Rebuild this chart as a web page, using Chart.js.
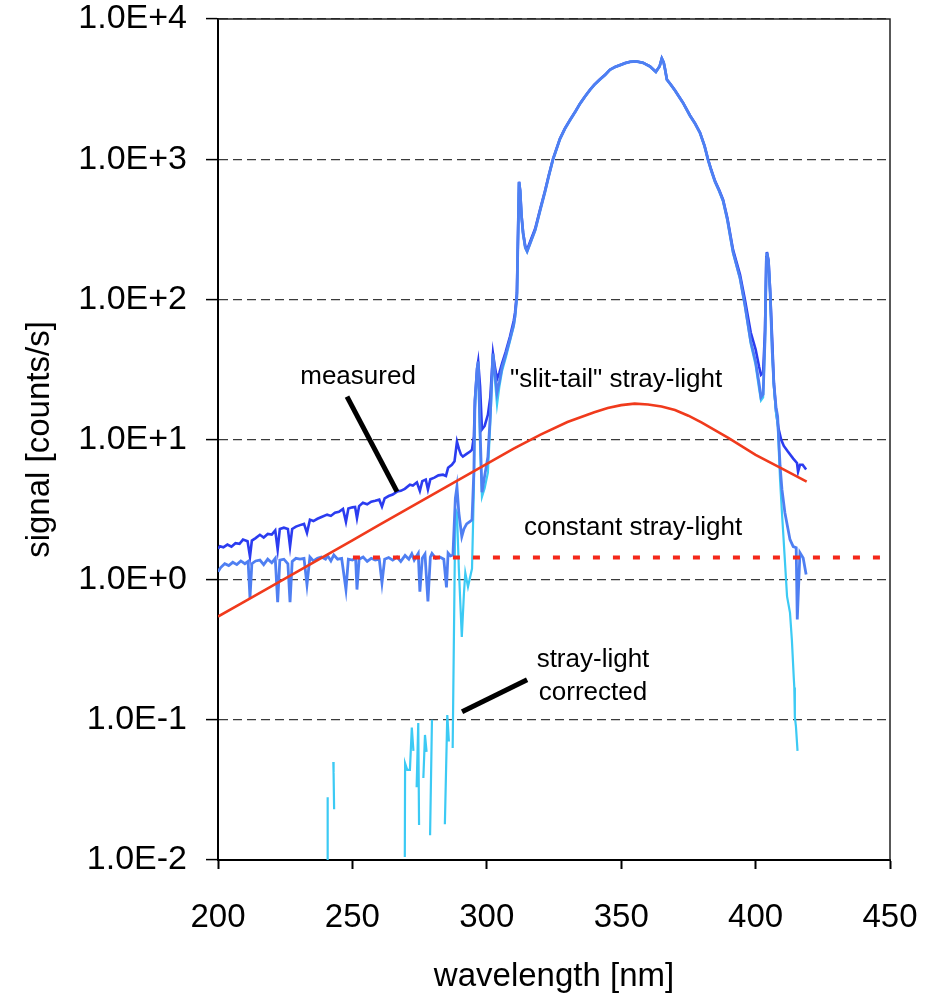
<!DOCTYPE html>
<html>
<head>
<meta charset="utf-8">
<script src="https://cdn.jsdelivr.net/npm/chart.js@4.4.1/dist/chart.umd.min.js"></script>
<style>
  html, body { margin: 0; padding: 0; background: #fff; }
  #wrap { width: 934px; height: 1000px; }
</style>
</head>
<body>
<div id="wrap"><canvas id="chart" width="934" height="1000"></canvas></div>
<script>
// [wavelength nm, signal counts/s]
const measured = [
  [200,1.66],[200.7,1.73],[202,1.70],[203.5,1.78],[205,1.72],[206.5,1.82],[208,1.80],[209.3,1.93],[211,1.88],[211.9,1.46],
  [212.6,1.90],[214,1.98],[215.6,2.09],[217,2.0],[218.5,2.12],[220,2.10],[221.3,2.25],[222.2,1.64],[223,2.30],[224.5,2.35],
  [226,2.30],[226.8,1.72],[227.6,2.30],[229,2.39],[230.5,2.45],[232,2.50],[233.1,2.16],[234.2,2.68],[235.5,2.62],[237,2.72],
  [238.5,2.80],[240.6,2.91],[242,2.85],[243.5,3.0],[245,3.05],[246.5,3.20],[247.6,2.59],[248.5,3.22],[250,3.28],[251,3.30],
  [251.7,2.75],[252.5,3.35],[253.9,3.54],[255.5,3.45],[257,3.60],[258.5,3.65],[260,3.72],[261,3.32],[262,3.80],[263.5,3.95],
  [265,4.05],[266.6,4.25],[268,4.30],[269.5,4.45],[271.4,4.76],[272.5,4.70],[274,4.95],[275.1,4.30],[276,5.05],[277.3,5.17],
  [278.1,4.40],[279,5.20],[280.5,5.35],[282,5.55],[283.7,5.61],[284.8,5.50],[285.6,6.28],[287,6.6],[288,7.0],[288.9,9.65],
  [289.6,8.6],[290.4,7.8],[291.1,7.55],[292.5,7.9],[293.8,8.2],[294.5,8.46],[295.2,10.5],[295.6,19],[296.4,32],[296.8,36],
  [297.5,24],[298.2,11.8],[299.2,12.5],[300.4,15],[301.3,20],[302.3,41],[303.0,33],[303.8,27],[304.7,30],[305.7,35],
  [307,42],[308.6,54],[310,70],[310.5,80],[311.2,111],[311.7,350],[312.0,690],[312.4,600],[312.9,400],[313.5,300],
  [314.3,240],[315.0,226],[316.5,270],[318,320],[319.8,437],[321.7,600],[323,760],[324.6,1000],[327.2,1400],[329,1650],
  [331,1914],[333,2200],[334.7,2500],[336.5,2800],[338.4,3130],[340,3400],[342,3700],[344,4000],[345.8,4350],[347.7,4550],
  [349.6,4700],[351.5,4850],[353.3,4960],[355.5,4990],[358.1,4880],[360.7,4600],[362.9,4200],[364.3,4600],[365.1,5240],[365.8,4900],
  [366.3,4400],[367,3700],[368.5,3400],[370,3100],[371.5,2800],[373,2530],[375.6,2050],[377.5,1800],[379.3,1550],[381,1250],
  [382.3,1000],[383.5,840],[384.9,700],[386.5,600],[387.9,514],[389.5,380],[391.6,226],[394.2,150],[396,100],[398.2,58],
  [400,44],[401.3,33],[402.0,29],[402.8,30],[403.5,60],[404.0,200],[404.2,218],[404.8,190],[405.4,117],[406.2,50],
  [406.8,25],[407.6,16],[408.5,12],[409.5,10],[410.5,9.0],[412,8.2],[414,7.3],[415.4,6.8],[415.8,5.9],[416.5,6.6],
  [417.5,6.6],[418.8,6.1]
];

// measured minus slit-tail stray light
const tailCorrected = [
  [200,1.14],[201,1.22],[202.5,1.30],[204,1.26],[205.5,1.33],[207,1.28],[208.5,1.36],[210,1.30],[211.2,1.35],[211.9,0.74],
  [212.6,1.30],[214,1.36],[215.6,1.38],[217,1.28],[218.5,1.40],[220,1.32],[221.3,1.42],[222.2,0.69],[223,1.38],[224.5,1.40],
  [226,1.30],[226.8,0.69],[227.6,1.35],[229,1.42],[230.5,1.40],[232,1.42],[233.1,0.92],[234.2,1.45],[235.5,1.36],[237,1.42],
  [238.5,1.45],[240,1.40],[240.8,1.48],[242,1.36],[243.1,1.50],[244.5,1.40],[246,1.42],[247.6,0.85],[248.5,1.40],[250,1.38],
  [251.2,1.42],[251.7,0.85],[252.5,1.40],[254,1.45],[255.5,1.35],[257,1.42],[258.5,1.38],[260,1.40],[261,0.95],[262,1.40],
  [263.5,1.44],[265,1.38],[266.6,1.45],[268,1.35],[269.6,1.49],[271,1.40],[272.1,1.53],[273,1.38],[274.5,1.54],[275.1,0.82],
  [276,1.42],[277,1.52],[278.1,0.70],[279,1.45],[279.6,1.54],[281,1.42],[282.5,1.45],[284,1.40],[285,0.88],[285.6,1.55],
  [286.5,1.48],[287.4,1.50],[288.3,3.8],[288.9,4.6],[289.6,3.0],[290.7,2.03],[291.5,2.3],[292.5,2.5],[293.8,2.6],[294.5,2.68],
  [295.2,6],[295.6,19],[296.4,32],[296.8,36],[297.5,12],[298.2,4.2],[299.2,5.5],[300.4,7.5],[301.3,15],[302.3,41],
  [303.0,30],[303.8,21.6],[304.7,26],[305.7,33],[307,40],[308.6,52],[310,66],[310.5,76],[311.2,105],[311.7,345],
  [312.0,685],[312.4,595],[312.9,395],[313.5,295],[314.3,235],[315.0,220],[316.5,262],[318,312],[319.8,428],[321.7,590],
  [323,750],[324.6,990],[327.2,1390],[329,1640],[331,1900],[333,2190],[334.7,2490],[336.5,2790],[338.4,3120],[340,3390],
  [342,3690],[344,3990],[345.8,4340],[347.7,4540],[349.6,4690],[351.5,4840],[353.3,4950],[355.5,4980],[358.1,4870],[360.7,4590],
  [362.9,4190],[364.3,4600],[365.1,5230],[365.8,4890],[366.3,4390],[367,3690],[368.5,3390],[370,3090],[371.5,2790],[373,2520],
  [375.6,2040],[377.5,1790],[379.3,1540],[381,1240],[382.3,990],[383.5,830],[384.9,690],[386.5,590],[387.9,505],[389.5,370],
  [391.6,218],[394.2,142],[396,92],[398.2,50],[400,36],[401.3,25],[402.0,20],[402.8,21],[403.5,52],[404.0,195],
  [404.2,215],[404.8,185],[405.4,112],[406.2,42],[406.8,25],[407.6,17],[408.2,14.6],[409.1,6.5],[409.8,4.4],[410.9,3.0],
  [412.8,1.93],[414,1.72],[415.1,1.69],[415.5,0.52],[416.5,1.56],[417.7,1.43],[418.8,1.09]
];

// fully stray-light corrected (null = below zero, not plotted)
const strayCorrected = [
  [240.7,0.005],[240.8,0.028],[241,null],[242.9,0.05],[243.0,0.042],[243.2,0.023],[243.4,null],
  [269.5,0.0105],[269.6,0.049],[270.4,0.044],[271.4,0.044],[272.1,0.088],[272.7,0.06],[273.3,null],
  [273.9,0.033],[274.5,0.095],[274.8,0.0178],[275.5,null],[276.4,0.0385],[277.0,0.078],[277.6,0.059],[278.2,null],
  [278.9,0.015],[279.6,0.10],[280,null],[284.4,0.018],[285.3,0.108],[285.9,0.07],[286.5,null],
  [287.3,0.063],[288.3,3.2],[288.9,3.0],[289.6,1.2],[290.7,0.39],[291.5,0.8],[292,1.12],[293,0.89],[294.5,1.2],
  [295.2,4.5],[295.6,17],[296.4,30],[296.8,35],[297.5,9],[298.2,3.9],[299.2,4.5],[300.4,5.8],[301.3,13],[302.3,40],
  [303.0,27],[303.8,17.7],[304.7,24],[305.7,31],[307,38],[308.6,50],[310,64],[310.5,74],[311.2,103],[311.7,343],
  [312.0,683],[312.4,593],[312.9,393],[313.5,293],[314.3,233],[315.0,218],[316.5,260],[318,310],[319.8,426],[321.7,588],
  [323,748],[324.6,988],[327.2,1388],[329,1638],[331,1898],[333,2188],[334.7,2488],[336.5,2788],[338.4,3118],[340,3388],
  [342,3688],[344,3988],[345.8,4338],[347.7,4538],[349.6,4688],[351.5,4838],[353.3,4948],[355.5,4978],[358.1,4868],[360.7,4588],
  [362.9,4188],[364.3,4598],[365.1,5228],[365.8,4888],[366.3,4388],[367,3688],[368.5,3388],[370,3088],[371.5,2788],[373,2518],
  [375.6,2038],[377.5,1788],[379.3,1538],[381,1238],[382.3,988],[383.5,828],[384.9,688],[386.5,588],[387.9,500],[389.5,365],
  [391.6,215],[394.2,140],[396,90],[398.2,48],[400,34],[401.3,23],[402.0,19],[402.8,20],[403.5,50],[404.0,194],
  [404.2,214],[404.8,184],[405.4,110],[406.2,40],[406.8,23.5],[407.6,15.5],[408.2,13],[409.1,5.17],[409.8,3.0],[410.2,2.27],
  [411.7,0.76],[412.8,0.58],[413.5,0.37],[414.2,0.2],[414.4,0.17],[414.6,0.105],[415.0,0.09],[415.6,0.06]
];

// "slit-tail" stray-light model
const slitTail = [
  [200,0.545],[210,0.700],[220,0.900],[230,1.156],[240,1.486],[250,1.910],[260,2.455],[270,3.155],[280,4.055],[290,5.21],
  [300,6.70],[310,8.61],[320,10.84],[330,13.34],[340,15.67],[345,16.79],[350,17.58],[355,18.03],[360,17.78],[365,17.18],
  [370,16.22],[375,14.79],[380,13.18],[385,11.61],[390,10.23],[400,7.76],[410,6.17],[419,5.01]
];

// constant stray-light level
const constantStray = [[250.2,1.44],[450,1.44]];

const xTicks = [200, 250, 300, 350, 400, 450];
const yTicks = [0.01, 0.1, 1, 10, 100, 1000, 10000];

const notes = [
  { text: 'measured', nm: 252.1, val: 28.1 },
  { text: '"slit-tail" stray-light', nm: 348.1, val: 26.7 },
  { text: 'constant stray-light', nm: 354.4, val: 2.35 },
  { text: 'stray-light', nm: 339.5, val: 0.269 },
  { text: 'corrected', nm: 339.5, val: 0.156 }
];
const leaders = [
  [[248.0, 20.2], [266.6, 4.25]],
  [[290.8, 0.114], [315.0, 0.193]]
];

const FONT = '"Liberation Sans", Arial, Helvetica, sans-serif';
const toXY = arr => arr.map(p => ({ x: p[0], y: p[1] }));

const annotate = {
  id: 'annotate',
  afterDatasetsDraw(chart) {
    const { ctx, chartArea: a, scales: { x, y } } = chart;
    ctx.save();
    ctx.strokeStyle = '#222';
    ctx.lineWidth = 1.5;
    ctx.beginPath();
    ctx.moveTo(a.left, a.top);
    ctx.lineTo(a.right, a.top);
    ctx.lineTo(a.right, a.bottom);
    ctx.stroke();

    ctx.strokeStyle = '#000';
    ctx.lineWidth = 5;
    leaders.forEach(([p1, p2]) => {
      ctx.beginPath();
      ctx.moveTo(x.getPixelForValue(p1[0]), y.getPixelForValue(p1[1]));
      ctx.lineTo(x.getPixelForValue(p2[0]), y.getPixelForValue(p2[1]));
      ctx.stroke();
    });

    ctx.fillStyle = '#000';
    ctx.font = '26px ' + FONT;
    ctx.textAlign = 'center';
    ctx.textBaseline = 'middle';
    notes.forEach(n => ctx.fillText(n.text, x.getPixelForValue(n.nm), y.getPixelForValue(n.val)));
    ctx.restore();
  }
};

new Chart(document.getElementById('chart').getContext('2d'), {
  type: 'line',
  data: {
    datasets: [
      { label: 'constant', data: toXY(constantStray), borderColor: '#f5281a', borderWidth: 4, borderDash: [7, 13], order: 0 },
      { label: 'slit-tail', data: toXY(slitTail), borderColor: '#f03a1c', borderWidth: 2.6, order: 1 },
      { label: 'tail corrected', data: toXY(tailCorrected), borderColor: '#4f7ff2', borderWidth: 2.8, order: 2 },
      { label: 'stray-light corrected', data: toXY(strayCorrected), borderColor: '#3ccaf4', borderWidth: 2.2, spanGaps: false, order: 3 },
      { label: 'measured', data: toXY(measured), borderColor: '#2b3cf0', borderWidth: 2.6, order: 4 }
    ]
  },
  options: {
    responsive: false,
    animation: false,
    devicePixelRatio: 1,
    elements: { point: { radius: 0 }, line: { tension: 0, fill: false } },
    layout: { padding: { left: 0, right: 44, top: 19, bottom: 0 } },
    plugins: { legend: { display: false }, tooltip: { enabled: false } },
    scales: {
      x: {
        type: 'linear',
        min: 200,
        max: 450,
        afterBuildTicks: s => { s.ticks = xTicks.map(v => ({ value: v })); },
        afterFit: s => { s.height = 140; s.paddingLeft = 0; s.paddingRight = 0; },
        ticks: { color: '#000', font: { family: FONT, size: 33 }, padding: 29, maxRotation: 0 },
        grid: { drawOnChartArea: false, tickLength: 9, tickColor: '#000', tickWidth: 2 },
        border: { color: '#000', width: 2 },
        title: { display: true, text: 'wavelength [nm]', color: '#000', font: { family: FONT, size: 33 }, padding: { top: 0, bottom: 3 } }
      },
      y: {
        type: 'logarithmic',
        min: 0.01,
        max: 10000,
        afterBuildTicks: s => { s.ticks = yTicks.map(v => ({ value: v })); },
        afterFit: s => { s.width = 218; s.paddingTop = 0; s.paddingBottom = 0; },
        ticks: { color: '#000', font: { family: FONT, size: 34 }, padding: 19, callback: v => Number(v).toExponential(1).toUpperCase() },
        grid: { color: '#3a3a3a', lineWidth: 1.2, tickLength: 12, tickColor: '#000', tickWidth: 1.5 },
        border: { color: '#000', width: 2, dash: [9, 5] },
        title: { display: true, text: 'signal [counts/s]', color: '#000', font: { family: FONT, size: 33 }, padding: { top: 20, bottom: 0 } }
      }
    }
  },
  plugins: [annotate]
});
</script>
</body>
</html>
